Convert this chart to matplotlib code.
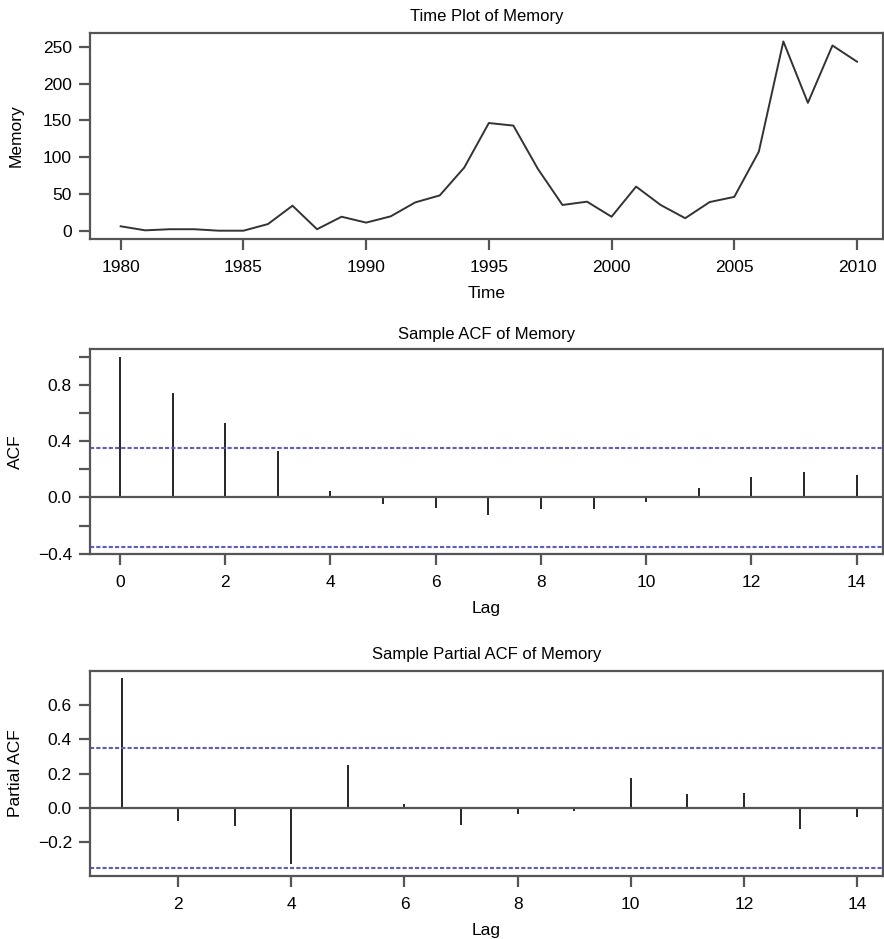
import numpy as np
import matplotlib
matplotlib.use("Agg")
import matplotlib.pyplot as plt

plt.rcParams['font.family'] = ['Liberation Sans', 'DejaVu Sans']

years = list(range(1980, 2011))
memory = [6, 0.5, 2, 2, 0, 0, 9, 34, 2, 19, 11, 19.5, 38.5, 48, 86, 146.5,
          143, 84, 35, 39.5, 19, 60, 35, 17, 39, 46, 107.5, 257.5, 174, 252, 230]

acf_lags = list(range(0, 15))
acf_vals = [1.0, 0.745, 0.532, 0.33, 0.043, -0.045, -0.075, -0.123, -0.083,
            -0.083, -0.033, 0.067, 0.145, 0.18, 0.163]

pacf_lags = list(range(1, 15))
pacf_vals = [0.758, -0.078, -0.107, -0.331, 0.248, 0.023, -0.099, -0.039,
             -0.021, 0.175, 0.08, 0.086, -0.126, -0.056]

conf = 0.352

W, H = 884, 939
fig = plt.figure(figsize=(W / 100, H / 100), dpi=100)

spine_col = "#555555"
blue = "#5a5ae0"


def make_axes(top, bottom):
    ax = fig.add_axes([90 / W, (H - bottom) / H, 793 / W, (bottom - top) / H])
    for s in ax.spines.values():
        s.set_color(spine_col)
        s.set_linewidth(1.6)
    ax.tick_params(direction="out", length=8, width=1.6, color=spine_col,
                   labelsize=12.5, pad=5)
    ax.tick_params(axis="x", pad=7)
    ax.yaxis.set_label_coords(-0.084, 0.5)
    return ax


# time plot
ax1 = make_axes(33, 239)
ax1.plot(years, memory, color="#333333", lw=1.4)
ax1.set_xlim(1978.75, 2011.06)
ax1.set_ylim(-11.3, 269)
ax1.set_xticks(range(1980, 2011, 5))
ax1.set_yticks(range(0, 251, 50))
ax1.set_title("Time Plot of Memory", fontsize=12, pad=9)
ax1.set_xlabel("Time", fontsize=12.5, labelpad=8)
ax1.set_ylabel("Memory", fontsize=12.5)

# acf
ax2 = make_axes(349, 554)
ax2.vlines(acf_lags, 0, acf_vals, color="black", lw=1.2)
ax2.axhline(0, color=spine_col, lw=1.6)
ax2.axhline(conf, color=blue, lw=1.5, ls=(0, (2, 1)))
ax2.axhline(-conf, color=blue, lw=1.5, ls=(0, (2, 1)))
ax2.set_xlim(-0.57, 14.5)
ax2.set_ylim(-0.402, 1.056)
ax2.set_xticks(range(0, 15, 2))
yt = [-0.4, -0.2, 0.0, 0.2, 0.4, 0.6, 0.8, 1.0]
ax2.set_yticks(yt)
ax2.set_yticklabels(["\u22120.4", "", "0.0", "", "0.4", "", "0.8", ""])
ax2.set_title("Sample ACF of Memory", fontsize=12, pad=7)
ax2.set_xlabel("Lag", fontsize=12.5, labelpad=8)
ax2.set_ylabel("ACF", fontsize=12.5)

# pacf
ax3 = make_axes(671, 876)
ax3.vlines(pacf_lags, 0, pacf_vals, color="black", lw=1.2)
ax3.axhline(0, color=spine_col, lw=1.6)
ax3.axhline(conf, color=blue, lw=1.5, ls=(0, (2, 1)))
ax3.axhline(-conf, color=blue, lw=1.5, ls=(0, (2, 1)))
ax3.set_xlim(0.44, 14.46)
ax3.set_ylim(-0.40, 0.80)
ax3.set_xticks(range(2, 15, 2))
ax3.set_yticks([-0.2, 0.0, 0.2, 0.4, 0.6])
ax3.set_yticklabels(["\u22120.2", "0.0", "0.2", "0.4", "0.6"])
ax3.set_title("Sample Partial ACF of Memory", fontsize=12, pad=9)
ax3.set_xlabel("Lag", fontsize=12.5, labelpad=8)
ax3.set_ylabel("Partial ACF", fontsize=12.5)

fig.savefig("out.png", dpi=100)
